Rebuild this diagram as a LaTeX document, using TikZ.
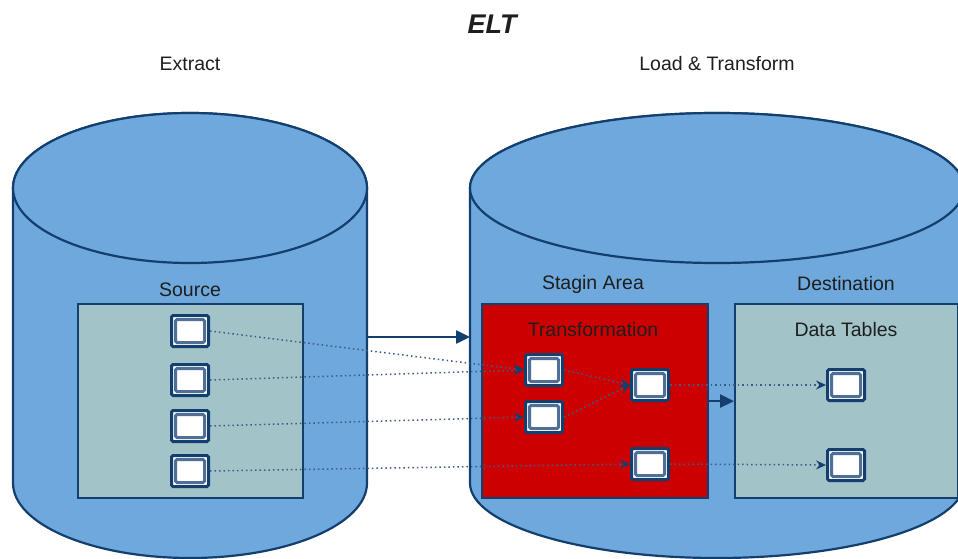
\documentclass[tikz,border=0pt]{standalone}
\usepackage{fontspec}
\setmainfont{Liberation Sans}
\usetikzlibrary{arrows.meta}

\definecolor{drum}{HTML}{6FA8DC}
\definecolor{ink}{HTML}{123F6E}
\definecolor{pane}{HTML}{A2C4C9}
\definecolor{stage}{HTML}{CC0000}
\definecolor{band}{HTML}{4F6F96}
\definecolor{flow}{HTML}{3A5C85}
\definecolor{txt}{HTML}{1E1E1E}

\begin{document}
\begin{tikzpicture}[x=1pt,y=-1pt,
  lbl/.style={text=txt,font=\fontsize{19.5}{23}\selectfont,inner sep=0pt},
  panel/.style={draw=ink,line width=2.2pt,anchor=north west,inner sep=0pt},
  item/.style={draw=ink,line width=3pt,fill=white,rounded corners=1.5pt,
    minimum width=37pt,minimum height=31pt,inner sep=0pt,
    path picture={\draw[band,line width=3pt]
      ([shift={(4pt,4pt)}]path picture bounding box.south west) rectangle
      ([shift={(-4pt,-4pt)}]path picture bounding box.north east);}},
  flowline/.style={flow,line width=1.5pt,dash pattern=on 1.5pt off 3pt,
    -{Stealth[length=10pt,width=9pt,inset=3.5pt,ink]}},
  bigarrow/.style={ink,line width=2.5pt,-{Triangle[length=14pt,width=13pt]}},
  drumline/.style={draw=ink,line width=2.2pt,fill=drum}]

\useasboundingbox (0,0) rectangle (958,559);
\clip (0,0) rectangle (958,559);

% headings
\node[lbl,font=\fontsize{27}{30}\selectfont\bfseries\itshape] (title) at (492,24) {ELT};
\node[lbl] (hextract) at (190,64) {Extract};
\node[lbl] (hload) at (717,64) {Load \& Transform};

% source database drum
\path[drumline] (13,188) -- (13,483)
  arc[start angle=180,end angle=0,x radius=177,y radius=75] -- (367,188)
  arc[start angle=0,end angle=-180,x radius=177,y radius=75] -- cycle;
\path[drumline] (190,188) ellipse[x radius=177,y radius=75];

% warehouse drum
\path[drumline] (470,188) -- (470,483)
  arc[start angle=180,end angle=0,x radius=247,y radius=75] -- (964,188)
  arc[start angle=0,end angle=-180,x radius=247,y radius=75] -- cycle;
\path[drumline] (717,188) ellipse[x radius=247,y radius=75];

\coordinate (lcyl) at (367,337);
\coordinate (rcyl) at (470,337);

% panels
\node[panel,fill=pane,minimum width=225pt,minimum height=194pt] (src) at (77,303) {};
\node[panel,fill=stage,minimum width=226pt,minimum height=194pt] (stg) at (481,303) {};
\node[panel,fill=pane,minimum width=223pt,minimum height=194pt] (dst) at (734,303) {};

\node[lbl] (lsrc) at (190,290) {Source};
\node[lbl] (lstg) at (593,284) {Stagin Area};
\node[lbl] (ldst) at (846,284) {Destination};
\node[lbl] (ltrf) at (593,330) {Transformation};
\node[lbl] (ltab) at (846,330) {Data Tables};

% main flow arrows
\draw[bigarrow] (lcyl) -- (rcyl);
\draw[bigarrow] (stg.east) -- (dst.west);

% record items
\node[item] (s1) at (190,331) {};
\node[item] (s2) at (190,380) {};
\node[item] (s3) at (190,426) {};
\node[item] (s4) at (190,471) {};
\node[item] (t1) at (544,370) {};
\node[item] (t2) at (544,417) {};
\node[item] (t3) at (650,385) {};
\node[item] (t4) at (650,464) {};
\node[item] (d1) at (846,385) {};
\node[item] (d2) at (846,465) {};

% record flows
\draw[flowline] (s1.east) -- (t1.west);
\draw[flowline] (s2.east) -- (t1.west);
\draw[flowline] (s3.east) -- (t2.west);
\draw[flowline] (s4.east) -- (t4.west);
\draw[flowline] (t1.east) -- (t3.west);
\draw[flowline] (t2.east) -- (t3.west);
\draw[flowline] (t3.east) -- (d1.west);
\draw[flowline] (t4.east) -- (d2.west);
\end{tikzpicture}
\end{document}
